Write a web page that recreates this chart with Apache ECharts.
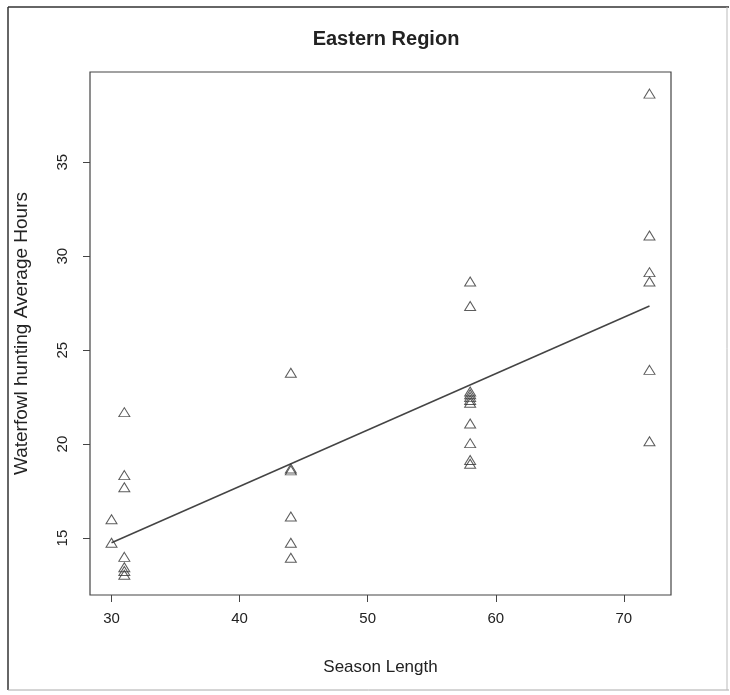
<!DOCTYPE html>
<html>
<head>
<meta charset="utf-8">
<script src="https://cdn.jsdelivr.net/npm/echarts@6/dist/echarts.min.js"></script>
<style>
html,body{margin:0;padding:0;background:#fff;}
#chart{width:730px;height:695px;}
</style>
</head>
<body>
<div id="chart"></div>
<script>
// Season lengths (x) and the observed average hours at each length (y)
const seasonLengths = [30, 31, 44, 58, 72];
const hours30 = [16.0, 14.75];
const hours31 = [21.7, 18.35, 17.7, 14.0, 13.45, 13.25, 13.05];
const hours44 = [23.8, 18.6, 18.7, 16.15, 14.75, 13.95];
const hours58 = [28.65, 27.35, 22.8, 22.65, 22.5, 22.35, 22.2, 21.1, 20.05, 19.15, 18.95];
const hours72 = [38.65, 31.1, 29.15, 28.65, 23.95, 20.15];
const hoursGroups = [hours30, hours31, hours44, hours58, hours72];

// Fitted regression line end points
const fitX = [30, 72];
const fitY = [14.75, 27.35];

// Tick labels
const xTicks = [30, 40, 50, 60, 70];
const yTicks = [15, 20, 25, 30, 35];

const points = [];
seasonLengths.forEach((len, i) => {
  hoursGroups[i].forEach(h => points.push([len, h]));
});
const fitLine = fitX.map((x, i) => [x, fitY[i]]);

const FONT = '"Liberation Sans", Arial, Helvetica, sans-serif';
const chart = echarts.init(document.getElementById('chart'), null, {renderer: 'canvas'});
chart.setOption({
  animation: false,
  backgroundColor: '#fff',
  title: {
    text: 'Eastern Region',
    left: 381,
    top: 24,
    textAlign: 'center',
    textStyle: {fontFamily: FONT, fontSize: 20, fontWeight: 'bold', color: '#222'}
  },
  grid: {
    left: 90, top: 72, width: 581, height: 523,
    show: true, borderColor: '#444', borderWidth: 1.2, backgroundColor: 'transparent'
  },
  xAxis: {
    type: 'value',
    min: 28.32, max: 73.68,
    name: 'Season Length',
    nameLocation: 'middle',
    nameGap: 64,
    nameTextStyle: {fontFamily: FONT, fontSize: 17, color: '#222'},
    axisLine: {show: false},
    axisTick: {show: true, inside: false, length: 7, customValues: xTicks, lineStyle: {color: '#444'}},
    axisLabel: {customValues: xTicks, margin: 16, fontFamily: FONT, fontSize: 15, color: '#222'},
    splitLine: {show: false}
  },
  yAxis: {
    type: 'value',
    min: 11.97, max: 39.8,
    name: 'Waterfowl hunting Average Hours',
    nameLocation: 'middle',
    nameRotate: 90,
    nameGap: 59,
    nameTextStyle: {fontFamily: FONT, fontSize: 19, color: '#222'},
    axisLine: {show: false},
    axisTick: {show: true, inside: false, length: 7, customValues: yTicks, lineStyle: {color: '#444'}},
    axisLabel: {customValues: yTicks, rotate: 90, margin: 20, fontFamily: FONT, fontSize: 15, color: '#222'},
    splitLine: {show: false}
  },
  graphic: [
    {type: 'line', shape: {x1: 8, y1: 7, x2: 729, y2: 7}, style: {stroke: '#333', lineWidth: 1.5}},
    {type: 'line', shape: {x1: 8, y1: 7, x2: 8, y2: 690}, style: {stroke: '#333', lineWidth: 1.5}},
    {type: 'line', shape: {x1: 8, y1: 690, x2: 729, y2: 690}, style: {stroke: '#aaa', lineWidth: 1}},
    {type: 'line', shape: {x1: 727, y1: 7, x2: 727, y2: 690}, style: {stroke: '#bbb', lineWidth: 1}}
  ],
  series: [
    {
      type: 'line',
      data: fitLine,
      symbol: 'none',
      lineStyle: {color: '#444', width: 1.5},
      z: 2
    },
    {
      type: 'scatter',
      data: points,
      symbol: 'triangle',
      symbolSize: [11, 9],
      itemStyle: {color: 'rgba(0,0,0,0)', borderColor: '#333', borderWidth: 1},
      z: 3
    }
  ]
});
</script>
</body>
</html>
